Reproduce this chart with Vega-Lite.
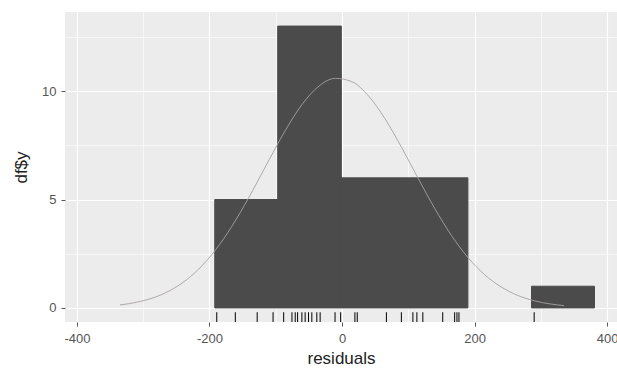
{
  "$schema": "https://vega.github.io/schema/vega-lite/v6.json",
  "autosize": "none",
  "width": 552,
  "height": 310,
  "padding": {"left": 65, "top": 12, "right": 0, "bottom": 48},
  "background": "#ffffff",
  "config": {
    "view": {"fill": "#ECECEC", "stroke": null},
    "font": "Liberation Sans",
    "axis": {
      "domain": false,
      "gridColor": "#ffffff",
      "tickColor": "#555555",
      "tickSize": 4,
      "labelColor": "#555555",
      "labelFontSize": 13,
      "titleColor": "#222222",
      "titleFontWeight": "normal",
      "titleFontSize": 17,
      "zindex": 0
    }
  },
  "datasets": {
    "bins": [
      {"bin_start": -192, "bin_end": -97, "count": 5},
      {"bin_start": -97, "bin_end": -1, "count": 13},
      {"bin_start": -1, "bin_end": 95, "count": 6},
      {"bin_start": 95, "bin_end": 190, "count": 6},
      {"bin_start": 286, "bin_end": 381, "count": 1}
    ],
    "rug": [
      {"residual": -189}, {"residual": -161}, {"residual": -128}, {"residual": -104},
      {"residual": -88}, {"residual": -75.5}, {"residual": -70.6}, {"residual": -67},
      {"residual": -60.5}, {"residual": -55.6}, {"residual": -50.5}, {"residual": -45.5},
      {"residual": -38}, {"residual": -33}, {"residual": -10.5}, {"residual": -2},
      {"residual": 19.5}, {"residual": 23}, {"residual": 67}, {"residual": 89.6},
      {"residual": 107}, {"residual": 113}, {"residual": 122}, {"residual": 152},
      {"residual": 170}, {"residual": 173.5}, {"residual": 176.5}, {"residual": 290}
    ],
    "density": [
      {"x": -335, "y": 0.138}, {"x": -310, "y": 0.26}, {"x": -285, "y": 0.465},
      {"x": -260, "y": 0.794}, {"x": -235, "y": 1.288}, {"x": -210, "y": 1.985},
      {"x": -185, "y": 2.914}, {"x": -160, "y": 4.068}, {"x": -135, "y": 5.405},
      {"x": -110, "y": 6.831}, {"x": -85, "y": 8.213}, {"x": -60, "y": 9.396},
      {"x": -35, "y": 10.227}, {"x": -10, "y": 10.589}, {"x": 15, "y": 10.433},
      {"x": 40, "y": 9.779}, {"x": 65, "y": 8.72}, {"x": 90, "y": 7.398},
      {"x": 115, "y": 5.971}, {"x": 140, "y": 4.585}, {"x": 165, "y": 3.35},
      {"x": 190, "y": 2.329}, {"x": 215, "y": 1.54}, {"x": 240, "y": 0.969},
      {"x": 265, "y": 0.58}, {"x": 290, "y": 0.33}, {"x": 315, "y": 0.179},
      {"x": 335, "y": 0.106}
    ]
  },
  "resolve": {"axis": {"x": "independent", "y": "independent"}},
  "layer": [
    {
      "data": {"name": "bins"},
      "mark": {"type": "rule", "opacity": 0},
      "encoding": {
        "x": {"field": "bin_start", "type": "quantitative",
              "scale": {"domain": [-418, 415], "nice": false, "zero": false},
              "axis": {"values": [-300, -100, 100, 300], "grid": true, "gridWidth": 0.6, "labels": false, "ticks": false, "title": null, "orient": "top"}},
        "y": {"field": "count", "type": "quantitative",
              "scale": {"domain": [-0.65, 13.65], "nice": false, "zero": false},
              "axis": {"values": [2.5, 7.5, 12.5], "grid": true, "gridWidth": 0.6, "labels": false, "ticks": false, "title": null, "orient": "right"}}
      }
    },
    {
      "data": {"name": "bins"},
      "mark": {"type": "rect", "color": "#4b4b4b", "stroke": "#4b4b4b", "strokeWidth": 1},
      "encoding": {
        "x": {"field": "bin_start", "type": "quantitative",
              "axis": {"orient": "bottom", "values": [-400, -200, 0, 200, 400], "grid": true, "gridWidth": 1.2, "title": "residuals", "labelPadding": 6, "titlePadding": 5, "labelFlush": false, "labelExpr": "replace(datum.label, '−', '-')"}},
        "x2": {"field": "bin_end"},
        "y": {"field": "count", "type": "quantitative",
              "axis": {"orient": "left", "values": [0, 5, 10], "grid": true, "gridWidth": 1.2, "title": "df$y", "labelPadding": 5, "titlePadding": 11}},
        "y2": {"datum": 0}
      }
    },
    {
      "data": {"name": "density"},
      "mark": {"type": "line", "color": "#a8a0a0", "strokeWidth": 0.9, "interpolate": "monotone"},
      "encoding": {
        "x": {"field": "x", "type": "quantitative", "axis": null},
        "y": {"field": "y", "type": "quantitative", "axis": null}
      }
    },
    {
      "data": {"name": "rug"},
      "mark": {"type": "rule", "color": "#000000", "strokeWidth": 1},
      "encoding": {
        "x": {"field": "residual", "type": "quantitative", "axis": null},
        "y": {"datum": -0.65, "axis": null},
        "y2": {"datum": -0.2}
      }
    }
  ]
}
